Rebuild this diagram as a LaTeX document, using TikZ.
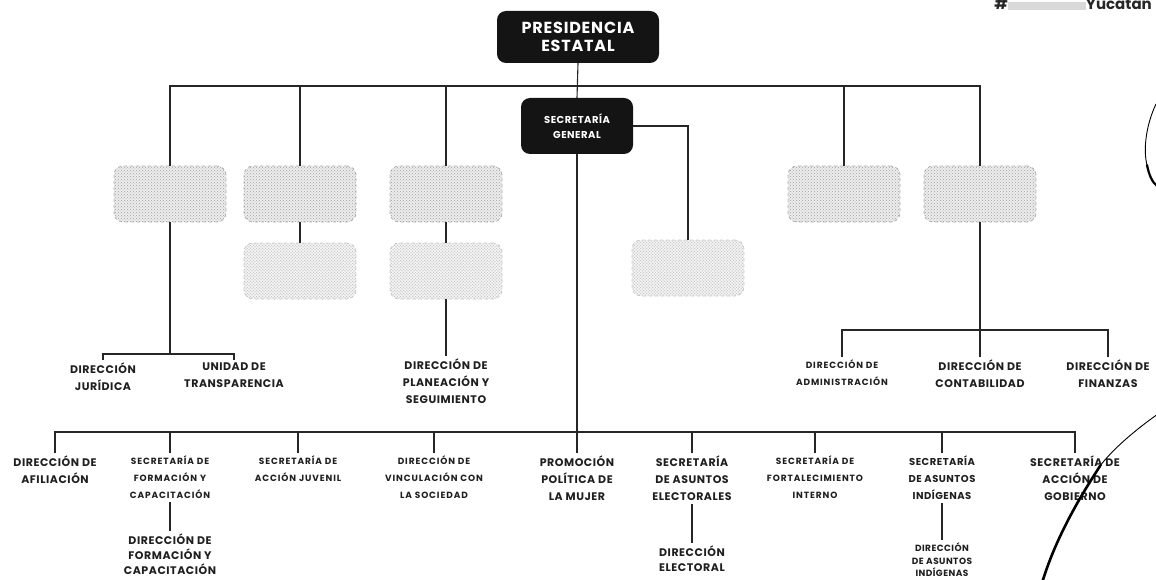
\documentclass[tikz,border=0pt]{standalone}
\usepackage{fontspec}
\usetikzlibrary{patterns}
\setmainfont{Poppins}
\newfontfamily\labA{Poppins}[LetterSpace=5]
\newfontfamily\labB{Poppins}[LetterSpace=10]
\begin{document}
\begin{tikzpicture}[x=1pt,y=-1pt,
  conn/.style={draw=black!85, line width=1.1pt},
  blackbox/.style={fill=black!92, text=white, rounded corners=9pt, align=center, inner sep=2pt},
  graybox/.style={fill=gray!14, draw=gray!60, dashed, line width=0.8pt, rounded corners=9pt, minimum width=112pt, minimum height=56pt, inner sep=0pt, postaction={pattern=crosshatch dots, pattern color=gray!75}},
  lightbox/.style={graybox, fill=gray!8, draw=gray!40, postaction={pattern=crosshatch dots, pattern color=gray!40}},
  lbl/.style={align=center, text=black!88, inner sep=0pt, outer sep=3pt, font=\labA\bfseries\fontsize{10}{17}\selectfont},
  lblS/.style={lbl, font=\labB\bfseries\fontsize{9}{17}\selectfont},
  lblL/.style={lbl, font=\labA\bfseries\fontsize{11}{17}\selectfont},
  lblSub/.style={lbl, font=\labA\bfseries\fontsize{11}{15}\selectfont}]
\useasboundingbox (0,0) rectangle (1156,580);

% top nodes
\node[blackbox, minimum width=162pt, minimum height=52pt, font=\labA\bfseries\fontsize{16}{18}\selectfont] (pres) at (578,37) {PRESIDENCIA\\ESTATAL};
\node[blackbox, minimum width=112pt, minimum height=56pt, font=\labA\bfseries\fontsize{10}{15}\selectfont] (sg) at (577,126) {SECRETARÍA\\GENERAL};

% gray boxes
\node[graybox] (g1) at (170,194) {};
\node[graybox] (g2) at (300,194) {};
\node[graybox] (g3) at (446,194) {};
\node[graybox] (g5) at (844,194) {};
\node[graybox] (g6) at (980,194) {};
\node[lightbox] (g2b) at (300,271) {};
\node[lightbox] (g3b) at (446,271) {};
\node[lightbox] (g4) at (688,268) {};

\coordinate (barL) at (170,86);
\coordinate (barR) at (980,86);
\draw[conn] (g1.north) -- (barL) -- (barR) -- (g6.north);
\draw[conn] (g2.north) -- (g2.north |- barL);
\draw[conn] (g3.north) -- (g3.north |- barL);
\draw[conn] (g5.north) -- (g5.north |- barL);
\draw[conn] (pres.south) -- (sg.north);
\draw[conn] (sg.east) -| (g4.north);
\draw[conn] (g2.south) -- (g2b.north);
\draw[conn] (g3.south) -- (g3b.north);

% left bracket
\node[lblL, anchor=north] (jur) at (103,360) {DIRECCIÓN\\JURÍDICA};
\node[lblL, anchor=north] (tra) at (234,360) {UNIDAD DE\\TRANSPARENCIA};
\coordinate (jb) at (170,354);
\draw[conn] (g1.south) -- (jb);
\draw[conn] (jur.north) |- (jb) -| (tra.north);

% planeacion
\node[lblL, anchor=north] (pla) at (446,356) {DIRECCIÓN DE\\PLANEACIÓN Y\\SEGUIMIENTO};
\draw[conn] (g3b.south) -- (pla.north);

% right bracket
\node[lblS, anchor=north] (adm) at (842,357) {DIRECCIÓN DE\\ADMINISTRACIÓN};
\node[lblL, anchor=north] (con) at (980,357) {DIRECCIÓN DE\\CONTABILIDAD};
\node[lblL, anchor=north] (fin) at (1108,357) {DIRECCIÓN DE\\FINANZAS};
\coordinate (rb) at (980,330);
\draw[conn] (g6.south) -- (rb);
\draw[conn] (adm.north) |- (rb) -| (fin.north);
\draw[conn] (con.north) -- (rb);

% bottom row
\node[lblL, anchor=north] (afi) at (55,453) {DIRECCIÓN DE\\AFILIACIÓN};
\node[lblS, anchor=north] (sfc) at (170,453) {SECRETARÍA DE\\FORMACIÓN Y\\CAPACITACIÓN};
\node[lblS, anchor=north] (saj) at (298,453) {SECRETARÍA DE\\ACCIÓN JUVENIL};
\node[lblS, anchor=north] (vin) at (434,453) {DIRECCIÓN DE\\VINCULACIÓN CON\\LA SOCIEDAD};
\node[lblL, anchor=north] (pro) at (577,453) {PROMOCIÓN\\POLÍTICA DE\\LA MUJER};
\node[lblL, anchor=north] (sae) at (692,453) {SECRETARÍA\\DE ASUNTOS\\ELECTORALES};
\node[lblS, anchor=north] (sfi) at (815,453) {SECRETARÍA DE\\FORTALECIMIENTO\\INTERNO};
\node[lbl, anchor=north] (sai) at (942,453) {SECRETARÍA\\DE ASUNTOS\\INDÍGENAS};
\node[lblL, anchor=north] (gob) at (1075,453) {SECRETARÍA DE\\ACCIÓN DE\\GOBIERNO};
\coordinate (bb) at (577,432);
\draw[conn] (sg.south) -- (pro.north);
\draw[conn] (afi.north) |- (bb) -| (gob.north);
\foreach \n in {sfc,saj,vin,sae,sfi,sai} \draw[conn] (\n.north) -- (\n.north |- bb);

% sub directions
\node[lblSub, anchor=north] (dfc) at (170,531) {DIRECCIÓN DE\\FORMACIÓN Y\\CAPACITACIÓN};
\node[lblSub, anchor=north] (del) at (692,543) {DIRECCIÓN\\ELECTORAL};
\node[lbl, anchor=north, font=\labA\bfseries\fontsize{9}{12.5}\selectfont] (dai) at (942,540) {DIRECCIÓN\\DE ASUNTOS\\INDÍGENAS};
\draw[conn] (sfc.south) -- (dfc.north);
\draw[conn] (sae.south) -- (del.north);
\draw[conn] (sai.south) -- (dai.north);

% header text, partly faded
\node[anchor=base east, font=\bfseries\fontsize{15}{15}\selectfont, inner sep=0pt, text=black!85] (ht) at (1152,10) {\#\textcolor{black!15}{\rule{78pt}{8pt}}Yucatán};

% hand-drawn marks
\draw[line width=0.9pt, line cap=round] (1158,414) .. controls (1135,430) and (1112,450) .. (1100,466);
\draw[line width=2.6pt, line cap=round] (1100,466) .. controls (1088,485) and (1058,530) .. (1042,583);
\draw[line width=0.9pt, line cap=round] (1156,104) .. controls (1146,125) and (1143,150) .. (1147,165);
\draw[line width=2.2pt, line cap=round] (1147,165) .. controls (1149,175) and (1152,182) .. (1157,186);
\end{tikzpicture}
\end{document}
